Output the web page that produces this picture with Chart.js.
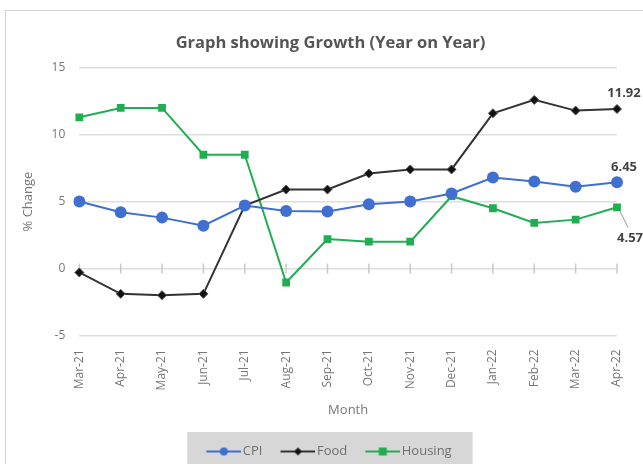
<!DOCTYPE html>
<html><head><meta charset="utf-8">
<script src="https://cdn.jsdelivr.net/npm/chart.js@4/dist/chart.umd.min.js"></script>
<style>
html,body{margin:0;padding:0;background:#fff;overflow:hidden;width:643px;height:464px;}
#frame{position:absolute;left:5px;top:10px;width:700px;height:500px;border:1px solid #d4d4d4;box-sizing:border-box;}
#wrap{position:absolute;left:0;top:0;width:643px;height:464px;}
</style></head>
<body>
<div id="frame"></div>
<div id="wrap"><canvas id="c" width="643" height="464"></canvas></div>
<script>
const months = ["Mar-21","Apr-21","May-21","Jun-21","Jul-21","Aug-21","Sep-21","Oct-21","Nov-21","Dec-21","Jan-22","Feb-22","Mar-22","Apr-22"];
const cpi = [5.0,4.2,3.8,3.2,4.7,4.3,4.25,4.8,5.0,5.6,6.8,6.5,6.1,6.45];
const food = [-0.3,-1.9,-2.0,-1.9,4.7,5.9,5.9,7.1,7.4,7.4,11.6,12.6,11.8,11.92];
const housing = [11.3,12.0,12.0,8.5,8.5,-1.05,2.2,2.0,2.0,5.4,4.5,3.4,3.65,4.57];
const yTicks = [-5,0,5,10,15];
const lastLabels = ["6.45","11.92","4.57"];

const FONT = "'Open Sans', 'Noto Sans', sans-serif";
const colors = {cpi:'#3f6fd0', food:'#333333', housing:'#21ad52'};

function legendIcon(color, style, fill){
  const cv = document.createElement('canvas');
  cv.width = 49; cv.height = 12;
  const x = cv.getContext('2d');
  const a = 14, b = 49, m = (a+b)/2;
  x.strokeStyle = color; x.lineWidth = 2;
  x.beginPath(); x.moveTo(a,6); x.lineTo(b,6); x.stroke();
  x.fillStyle = fill;
  if(style==='circle'){ x.beginPath(); x.arc(m,6,4,0,Math.PI*2); x.fill(); }
  else if(style==='rect'){ x.fillRect(m-4,2,8,8); }
  else { x.beginPath(); x.moveTo(m,2); x.lineTo(m+4,6); x.lineTo(m,10); x.lineTo(m-4,6); x.closePath(); x.fill(); }
  return cv;
}
const icons = [legendIcon(colors.cpi,'circle',colors.cpi), legendIcon(colors.food,'rectRot','#111'), legendIcon(colors.housing,'rect',colors.housing)];

const extras = {
  id:'extras',
  afterLayout(chart){
    const lg = chart.legend;
    if(lg){ lg.left += 16; lg.right += 16; lg.top += 4; lg.bottom += 4; }
    const tb = chart.titleBlock;
    if(tb){ tb.left += 22; tb.right += 22; }
  },
  beforeDraw(chart){
    const lg = chart.legend;
    if(lg && lg.legendHitBoxes && lg.legendHitBoxes.length){
      const hb = lg.legendHitBoxes;
      const l = Math.min(...hb.map(h=>h.left)) - 10;
      const r = Math.max(...hb.map(h=>h.left+h.width)) + 21;
      const ctx = chart.ctx;
      ctx.save(); ctx.fillStyle = '#d7d7d7';
      ctx.fillRect(l, 432, r-l, 40);
      ctx.restore();
    }
  },
  beforeDatasetsDraw(chart){
    const xs = chart.scales.x, ys = chart.scales.y;
    const y0 = ys.getPixelForValue(0);
    const ctx = chart.ctx;
    ctx.save(); ctx.strokeStyle = '#c8c8c8'; ctx.lineWidth = 1.5;
    months.forEach((m,i)=>{
      const px = xs.getPixelForValue(i);
      ctx.beginPath(); ctx.moveTo(px, y0-5); ctx.lineTo(px, y0+5); ctx.stroke();
    });
    ctx.restore();
  },
  afterDatasetsDraw(chart){
    const ctx = chart.ctx;
    ctx.save();
    ctx.font = "bold 13px " + FONT;
    ctx.fillStyle = '#444';
    ctx.textAlign = 'center'; ctx.textBaseline = 'middle';
    const pC = chart.getDatasetMeta(0).data[13];
    const pF = chart.getDatasetMeta(1).data[13];
    const pH = chart.getDatasetMeta(2).data[13];
    ctx.fillText(lastLabels[1], pF.x+7, pF.y-16);
    ctx.fillText(lastLabels[0], pC.x+7, pC.y-15);
    ctx.strokeStyle = '#999'; ctx.lineWidth = 1;
    ctx.beginPath(); ctx.moveTo(pH.x+3, pH.y+4); ctx.lineTo(pH.x+11, pH.y+20); ctx.stroke();
    ctx.fillText(lastLabels[2], pH.x+13, pH.y+31);
    ctx.restore();
  }
};

new Chart(document.getElementById('c'), {
  type:'line',
  data:{
    labels: months,
    datasets:[
      {label:'CPI', data:cpi, borderColor:colors.cpi, backgroundColor:colors.cpi, borderWidth:2, pointStyle:'circle', pointRadius:6, pointBorderWidth:0, pointBackgroundColor:colors.cpi},
      {label:'Food', data:food, borderColor:colors.food, backgroundColor:'#111', borderWidth:2, pointStyle:'rectRot', pointRadius:4.5, pointBorderColor:'#555', pointBorderWidth:1, pointBackgroundColor:'#111'},
      {label:'Housing', data:housing, borderColor:colors.housing, backgroundColor:colors.housing, borderWidth:2, pointStyle:'rect', pointRadius:5.5, pointBorderWidth:0, pointBackgroundColor:colors.housing}
    ]
  },
  options:{
    responsive:false, animation:false,
    layout:{padding:{left:0, right:26, top:19, bottom:0}},
    plugins:{
      title:{display:true, text:'Graph showing Growth (Year on Year)', color:'#555', font:{family:FONT, size:16.5, weight:'bold'}, padding:{top:14, bottom:15}},
      legend:{position:'bottom', labels:{usePointStyle:true, pointStyleWidth:39, boxHeight:12, color:'#707070', font:{family:FONT, size:13}, padding:9,
        generateLabels(chart){
          const items = Chart.defaults.plugins.legend.labels.generateLabels(chart);
          items.forEach((it,i)=>{ it.pointStyle = icons[i]; });
          return items;
        }}},
      tooltip:{enabled:false}
    },
    scales:{
      x:{offset:false, grid:{display:false}, border:{display:false},
        ticks:{color:'#777', font:{family:FONT, size:12}, minRotation:90, maxRotation:90, autoSkip:false, padding:6},
        title:{display:true, text:'Month', color:'#777', font:{family:FONT, size:13}, padding:{top:6, bottom:14}}},
      y:{min:-5, max:15, afterBuildTicks(s){ s.ticks = yTicks.map(v=>({value:v})); },
        grid:{color:'#dedede', lineWidth:1.5, drawTicks:false}, border:{display:false},
        ticks:{color:'#777', font:{family:FONT, size:12}, padding:14},
        title:{display:true, text:'% Change', color:'#777', font:{family:FONT, size:13}, padding:{top:20, bottom:2}}}
    }
  },
  plugins:[extras]
});
</script>
</body></html>
